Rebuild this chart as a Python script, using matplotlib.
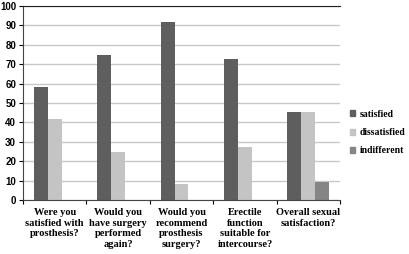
import numpy as np
import matplotlib.pyplot as plt
from matplotlib.patches import Patch

# survey questions and percentages
questions = ["Were you\nsatisfied with\nprosthesis?",
             "Would you\nhave surgery\nperformed\nagain?",
             "Would you\nrecommend\nprosthesis\nsurgery?",
             "Erectile\nfunction\nsuitable for\nintercourse?",
             "Overall sexual\nsatisfaction?"]
satisfied = [58.3, 75.0, 91.7, 72.7, 45.5]
dissatisfied = [41.7, 25.0, 8.3, 27.3, 45.5]
indifferent = [0, 0, 0, 0, 9.1]
series_names = ["satisfied", "dissatisfied", "indifferent"]
colors = ["#5e5e5e", "#c4c4c4", "#858585"]

fig = plt.figure(figsize=(4.09, 2.54), dpi=100)
ax = fig.add_axes([23/409, 54/254, 317/409, 194/254])

x = np.arange(len(questions))
w = 0.22
for i, (vals, c) in enumerate(zip([satisfied, dissatisfied, indifferent], colors)):
    ax.bar(x + (i - 1) * w, vals, w, color=c, zorder=2)

ax.set_xlim(-0.5, len(questions) - 0.5)
ax.set_ylim(0, 100)
ax.set_yticks(range(0, 101, 10))
ax.yaxis.grid(True, color="#c8c8c8", linewidth=1, zorder=0)
ax.set_axisbelow(True)

# category separators as tick marks on the x axis
ax.set_xticks(np.arange(-0.5, len(questions)), minor=False)
ax.set_xticklabels([])
ax.set_xticks(x, minor=True)
ax.set_xticklabels(questions, minor=True, fontsize=7.5, fontweight="bold",
                   family="Liberation Serif", linespacing=1.22)
ax.tick_params(axis="x", which="minor", length=0, pad=6)
ax.tick_params(axis="x", which="major", length=3, width=0.8, direction="out")
ax.tick_params(axis="y", length=3, width=0.8, pad=2, labelsize=7.0)
for lab in ax.get_yticklabels():
    lab.set_fontweight("bold")
    lab.set_family("Liberation Sans")

ax.spines["right"].set_visible(False)
ax.spines["top"].set_color("#222222")
ax.spines["left"].set_color("#444444")
ax.spines["bottom"].set_color("#444444")

handles = [Patch(color=c) for c in colors]
leg = fig.legend(handles, series_names, loc="upper left",
                 bbox_to_anchor=(343/409, 1 - 103/254), frameon=False,
                 prop={"size": 7.0, "weight": "bold", "family": "Liberation Serif"},
                 handlelength=0.55, handleheight=0.55, handletextpad=0.5,
                 labelspacing=0.95, borderpad=0.2)

fig.savefig("out.png", dpi=100)
